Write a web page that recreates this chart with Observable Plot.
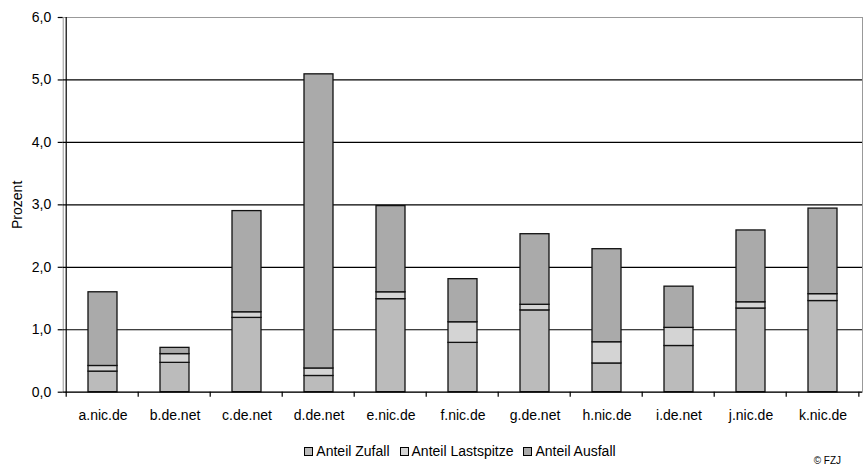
<!DOCTYPE html>
<html>
<head>
<meta charset="utf-8">
<script src="https://cdn.jsdelivr.net/npm/d3@7"></script>
<script src="https://cdn.jsdelivr.net/npm/@observablehq/plot@0.6"></script>
<style>
  html, body { margin: 0; padding: 0; background: #fff; }
  #wrap { position: relative; width: 864px; height: 470px; font-family: "Liberation Sans", Arial, sans-serif; color: #000; }
  #legend { position: absolute; left: 0; top: 443px; width: 864px; display: flex; justify-content: center; padding-left: 56px; box-sizing: border-box; font-size: 14px; line-height: 17px; }
  .item { display: flex; align-items: center; margin-right: 10px; }
  .item:last-child { margin-right: 0; }
  .sw { width: 7px; height: 7px; border: 1px solid #000; margin-right: 3px; }
  #credit { position: absolute; right: 23px; top: 455px; font-size: 10px; }
</style>
</head>
<body>
<div id="wrap">
  <div id="chart"></div>
  <div id="legend"></div>
  <div id="credit">© FZJ</div>
</div>
<script>
// Server names along the x axis
const categories = ["a.nic.de", "b.de.net", "c.de.net", "d.de.net", "e.nic.de", "f.nic.de",
                    "g.de.net", "h.nic.de", "i.de.net", "j.nic.de", "k.nic.de"];

// Stack components, in percent (bottom to top)
const zufall     = [0.33, 0.47, 1.19, 0.26, 1.49, 0.79, 1.31, 0.46, 0.74, 1.34, 1.46];
const lastspitze = [0.09, 0.14, 0.09, 0.12, 0.11, 0.33, 0.09, 0.34, 0.29, 0.10, 0.11];
const ausfall    = [1.18, 0.10, 1.62, 4.71, 1.38, 0.69, 1.13, 1.49, 0.66, 1.15, 1.37];

const seriesNames = ["Anteil Zufall", "Anteil Lastspitze", "Anteil Ausfall"];
const seriesColors = ["#bbbbbb", "#d4d4d4", "#aaaaaa"];
const yTicks = [0, 1, 2, 3, 4, 5, 6];

const rows = [];
[zufall, lastspitze, ausfall].forEach((vals, s) => {
  vals.forEach((v, i) => rows.push({server: categories[i], series: seriesNames[s], value: v}));
});

const fmt = d => d.toFixed(1).replace(".", ",");

// Y axis line plus tick marks at the category boundaries (Excel style)
function categoryAxis(index, scales, values, dims) {
  const {x, y} = scales;
  const bw = typeof x.bandwidth === "number" ? x.bandwidth
           : (dims.width - dims.marginLeft - dims.marginRight) / categories.length * 0.4;
  const step = bw / 0.4;
  const y0 = y(0);
  const g = d3.create("svg:g").attr("stroke", "#000").attr("stroke-width", 1.2).attr("fill", "none");
  const bounds = categories.map(c => x(c) + bw / 2 - step / 2);
  bounds.push(x(categories[categories.length - 1]) + bw / 2 + step / 2);
  for (const b of bounds) {
    g.append("line").attr("x1", b).attr("x2", b).attr("y1", y0).attr("y2", y0 + 5);
  }
  g.append("line")
    .attr("x1", bounds[0]).attr("x2", bounds[0])
    .attr("y1", y(6)).attr("y2", y0 + 1);
  return g.node();
}

const chart = Plot.plot({
  width: 864,
  height: 430,
  marginTop: 17,
  marginRight: 2,
  marginBottom: 38.3,
  marginLeft: 62.7,
  style: {fontFamily: "'Liberation Sans', Arial, sans-serif", fontSize: "14px", background: "#fff", color: "#000"},
  x: {domain: categories, paddingInner: 0.6, paddingOuter: 0.3},
  y: {domain: [0, 6]},
  color: {domain: seriesNames, range: seriesColors},
  marks: [
    Plot.frame({stroke: "#999", strokeWidth: 1}),
    Plot.ruleY([1, 2, 3, 4, 5], {stroke: "#000", strokeWidth: 1.2}),
    Plot.barY(rows, {x: "server", y: "value", fill: "series", stroke: "#111", strokeWidth: 1.3}),
    Plot.ruleY([0], {stroke: "#000", strokeWidth: 1.2}),
    Plot.axisY(yTicks, {tickSize: 5, tickPadding: 7, tickFormat: fmt, fontSize: 14, strokeWidth: 1.2,
                        label: "Prozent", labelAnchor: "center", labelArrow: "none", labelOffset: 51}),
    Plot.axisX({tickSize: 0, tickPadding: 18, fontSize: 14, label: null}),
    categoryAxis
  ]
});
document.getElementById("chart").append(chart);

// Legend row under the plot
const legend = d3.select("#legend");
seriesNames.forEach((name, i) => {
  const item = legend.append("div").attr("class", "item");
  item.append("div").attr("class", "sw").style("background", seriesColors[i]);
  item.append("span").text(name);
});
</script>
</body>
</html>
